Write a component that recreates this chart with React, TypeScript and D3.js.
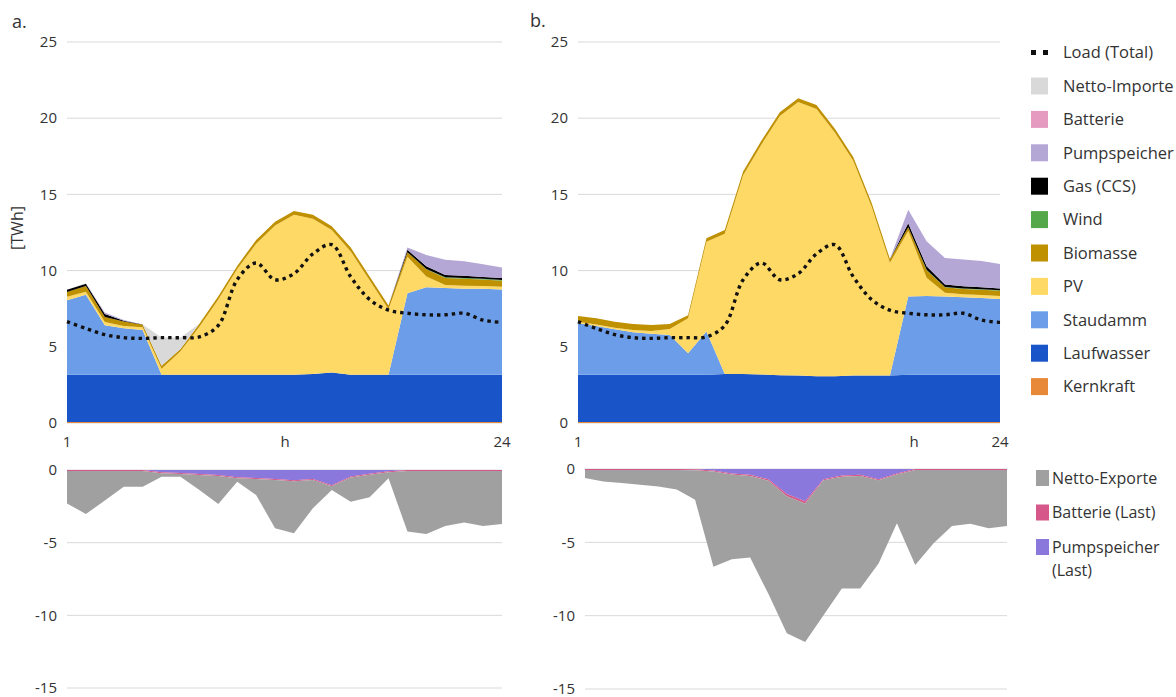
import React, { useEffect, useRef } from 'react';
import * as d3 from 'd3';

// hours of the typical day
const hours = [1, 2, 3, 4, 5, 6, 7, 8, 9, 10, 11, 12, 13, 14, 15, 16, 17, 18, 19, 20, 21, 22, 23, 24];
const load = [6.65, 6.2, 5.8, 5.6, 5.55, 5.6, 5.6, 5.65, 6.4, 9.4, 10.5, 9.4, 9.8, 11.1, 11.7, 9.6, 8.1, 7.4, 7.2, 7.1, 7.1, 7.2, 6.75, 6.6];

// panel a. supply [TWh]
const kernkraftA = [0.06, 0.06, 0.06, 0.06, 0.06, 0.06, 0.06, 0.06, 0.06, 0.06, 0.06, 0.06, 0.06, 0.06, 0.06, 0.06, 0.06, 0.06, 0.06, 0.06, 0.06, 0.06, 0.06, 0.06];
const laufwasserA = [3.1, 3.1, 3.1, 3.1, 3.1, 3.1, 3.1, 3.1, 3.1, 3.1, 3.1, 3.1, 3.1, 3.15, 3.25, 3.1, 3.1, 3.1, 3.1, 3.1, 3.1, 3.1, 3.1, 3.1];
const staudammA = [4.9, 5.25, 3.25, 3.05, 2.95, 0, 0, 0, 0, 0, 0, 0, 0, 0, 0, 0, 0, 0, 5.35, 5.75, 5.7, 5.65, 5.65, 5.6];
const pvA = [0.22, 0.2, 0.22, 0.16, 0.17, 0.4, 1.55, 3.15, 4.95, 6.95, 8.6, 9.8, 10.5, 10.2, 9.35, 8.1, 6.2, 4.3, 2.4, 0.7, 0.2, 0.2, 0.18, 0.18];
const biomasseA = [0.31, 0.38, 0.32, 0.29, 0.16, 0.2, 0.15, 0.2, 0.2, 0.2, 0.25, 0.25, 0.25, 0.25, 0.25, 0.25, 0.25, 0.25, 0.3, 0.48, 0.45, 0.45, 0.42, 0.4];
const windA = [0, 0, 0, 0, 0, 0, 0, 0, 0, 0, 0, 0, 0, 0, 0, 0, 0, 0, 0, 0.02, 0.05, 0.05, 0.05, 0.05];
const gasA = [0.15, 0.14, 0.2, 0.05, 0.02, 0, 0, 0, 0, 0, 0, 0, 0, 0, 0, 0, 0, 0, 0.15, 0.18, 0.15, 0.15, 0.12, 0.12];
const pumpspeicherA = [0, 0.03, 0.1, 0.05, 0, 0, 0, 0, 0, 0, 0, 0, 0, 0, 0, 0, 0, 0, 0.15, 0.74, 1.0, 0.95, 0.83, 0.7];
const batterieA = [0, 0, 0, 0, 0, 0, 0, 0, 0, 0, 0, 0, 0, 0, 0, 0, 0, 0, 0, 0, 0, 0, 0, 0];
const importeA = [0, 0, 0, 0, 0, 1.85, 0.75, 0, 0, 0, 0, 0, 0, 0, 0, 0, 0, 0, 0, 0, 0, 0, 0, 0];

// panel a. demand side (drawn below zero)
const exporteA = [2.23, 2.96, 2.03, 1.08, 1.08, 0.24, 0.19, 1.04, 1.92, 0.23, 1.1, 3.31, 3.59, 1.95, 0.26, 1.66, 1.56, 0.42, 4.17, 4.33, 3.78, 3.55, 3.78, 3.65];
const batterieLastA = [0.07, 0.07, 0.07, 0.07, 0.07, 0.07, 0.07, 0.07, 0.07, 0.07, 0.07, 0.07, 0.07, 0.07, 0.07, 0.07, 0.07, 0.07, 0.07, 0.07, 0.07, 0.07, 0.07, 0.07];
const pumpLastA = [0, 0, 0, 0, 0, 0.15, 0.2, 0.27, 0.35, 0.5, 0.55, 0.62, 0.7, 0.62, 1.05, 0.45, 0.25, 0.08, 0, 0, 0, 0, 0, 0];

// panel b. supply [TWh]
const kernkraftB = [0.06, 0.06, 0.06, 0.06, 0.06, 0.06, 0.06, 0.06, 0.06, 0.06, 0.06, 0.06, 0.06, 0.06, 0.06, 0.06, 0.06, 0.06, 0.06, 0.06, 0.06, 0.06, 0.06, 0.06];
const laufwasserB = [3.1, 3.1, 3.1, 3.1, 3.1, 3.1, 3.1, 3.1, 3.15, 3.15, 3.12, 3.08, 3.05, 3.0, 3.0, 3.05, 3.05, 3.05, 3.1, 3.1, 3.1, 3.1, 3.1, 3.1];
const staudammB = [3.38, 3.2, 2.99, 2.79, 2.69, 2.61, 1.41, 2.84, 0, 0, 0, 0, 0, 0, 0, 0, 0, 0, 5.14, 5.17, 5.14, 5.09, 5.04, 4.97];
const pvB = [0.1, 0.1, 0.1, 0.15, 0.18, 0.4, 2.3, 5.9, 9.2, 13.05, 15.1, 17.0, 17.95, 17.55, 16.0, 14.1, 11.1, 7.4, 4.3, 1.2, 0.25, 0.2, 0.2, 0.2];
const biomasseB = [0.38, 0.41, 0.4, 0.4, 0.4, 0.33, 0.2, 0.22, 0.25, 0.25, 0.25, 0.25, 0.25, 0.25, 0.25, 0.25, 0.25, 0.25, 0.25, 0.5, 0.35, 0.35, 0.35, 0.35];
const windB = [0, 0, 0, 0, 0, 0, 0, 0, 0, 0, 0, 0, 0, 0, 0, 0, 0, 0, 0, 0.02, 0.03, 0.03, 0.03, 0.03];
const gasB = [0, 0, 0, 0, 0, 0, 0, 0, 0, 0, 0, 0, 0, 0, 0, 0, 0, 0, 0.25, 0.23, 0.16, 0.14, 0.13, 0.12];
const pumpspeicherB = [0, 0, 0, 0, 0, 0, 0, 0, 0, 0, 0, 0, 0, 0, 0, 0, 0, 0, 0.9, 1.64, 1.74, 1.76, 1.72, 1.6];
const batterieB = [0, 0, 0, 0, 0, 0, 0, 0, 0, 0, 0, 0, 0, 0, 0, 0, 0, 0, 0, 0, 0, 0, 0, 0];
const importeB = [0, 0, 0, 0, 0, 0, 0, 0, 0, 0, 0, 0, 0, 0, 0, 0, 0, 0, 0, 0, 0, 0, 0, 0];

// panel b. demand side
const exporteB = [0.55, 0.78, 0.89, 1.0, 1.12, 1.33, 2.01, 6.5, 5.79, 5.56, 7.73, 9.35, 9.45, 9.21, 7.63, 7.68, 5.67, 3.33, 6.48, 5.0, 3.81, 3.67, 3.97, 3.81];
const batterieLastB = [0.07, 0.07, 0.07, 0.07, 0.07, 0.07, 0.07, 0.07, 0.07, 0.07, 0.1, 0.15, 0.15, 0.07, 0.07, 0.07, 0.07, 0.07, 0.07, 0.07, 0.07, 0.07, 0.07, 0.07];
const pumpLastB = [0, 0, 0, 0, 0, 0, 0.02, 0.1, 0.3, 0.4, 0.7, 1.7, 2.2, 0.7, 0.45, 0.4, 0.7, 0.3, 0, 0, 0, 0, 0, 0];

const topTicks = [0, 5, 10, 15, 20, 25];
const bottomTicks = [0, -5, -10, -15];

const supplyKeys = ['Kernkraft', 'Laufwasser', 'Staudamm', 'PV', 'Biomasse', 'Wind', 'Gas (CCS)', 'Pumpspeicher', 'Batterie', 'Netto-Importe'];
const demandKeys = ['Pumpspeicher (Last)', 'Batterie (Last)', 'Netto-Exporte'];

const colors: Record<string, string> = {
  'Kernkraft': '#e8893a',
  'Laufwasser': '#1a54c9',
  'Staudamm': '#6c9de8',
  'PV': '#ffd966',
  'Biomasse': '#bf9000',
  'Wind': '#55a84a',
  'Gas (CCS)': '#000000',
  'Pumpspeicher': '#b4a7d6',
  'Batterie': '#e59bbf',
  'Netto-Importe': '#d9d9d9',
  'Netto-Exporte': '#a0a0a0',
  'Batterie (Last)': '#d6578a',
  'Pumpspeicher (Last)': '#8b78dc',
};

const FONT = '"Open Sans", sans-serif';
const TEXT = '#333333';

function supplyRows(s: number[][]) {
  return hours.map((h, i) => {
    const row: any = { hour: h };
    supplyKeys.forEach((k, j) => { row[k] = s[j][i]; });
    return row;
  });
}

function demandRows(s: number[][]) {
  return hours.map((h, i) => {
    const row: any = { hour: h };
    demandKeys.forEach((k, j) => { row[k] = -s[j][i]; });
    return row;
  });
}

export default function App() {
  const ref = useRef<SVGSVGElement>(null);

  useEffect(() => {
    const svg = d3.select(ref.current);
    svg.selectAll('*').remove();

    const drawGrid = (g: any, x0: number, x1: number, y: any, ticks: number[], labelX: number) => {
      g.selectAll('line.grid').data(ticks).enter().append('line')
        .attr('x1', x0).attr('x2', x1)
        .attr('y1', (d: number) => y(d)).attr('y2', (d: number) => y(d))
        .attr('stroke', '#d9d9d9').attr('stroke-width', 1);
      g.selectAll('text.tick').data(ticks).enter().append('text')
        .attr('x', labelX).attr('y', (d: number) => y(d))
        .attr('dy', '0.35em').attr('text-anchor', 'end')
        .attr('font-family', FONT).attr('font-size', 15).attr('fill', TEXT)
        .text((d: number) => d);
    };

    const drawTop = (x0: number, x1: number, series: number[][], hLabelX: number) => {
      const g = svg.append('g');
      const x = d3.scaleLinear().domain([1, 24]).range([x0, x1]);
      const y = d3.scaleLinear().domain([0, 25]).range([423, 42]);
      drawGrid(g, x0, x1, y, topTicks, x0 - 10);

      const stacked = d3.stack().keys(supplyKeys)(supplyRows(series));
      const area = d3.area<any>()
        .x((d: any) => x(d.data.hour))
        .y0((d: any) => y(d[0]))
        .y1((d: any) => y(d[1]));
      g.selectAll('path.layer').data(stacked).enter().append('path')
        .attr('d', area as any)
        .attr('fill', (d: any) => colors[d.key]);

      // load as dotted smooth line
      const line = d3.line<number>()
        .x((d, i) => x(hours[i]))
        .y(d => y(d))
        .curve(d3.curveCatmullRom.alpha(0.5));
      g.append('path').attr('d', line(load))
        .attr('fill', 'none').attr('stroke', '#111')
        .attr('stroke-width', 3.4).attr('stroke-dasharray', '3.4 4');

      // x labels
      const xl = [{ t: '1', x: x(1) }, { t: 'h', x: hLabelX }, { t: '24', x: x(24) }];
      g.selectAll('text.xl').data(xl).enter().append('text')
        .attr('x', (d: any) => d.x).attr('y', 447)
        .attr('text-anchor', 'middle')
        .attr('font-family', FONT).attr('font-size', 15).attr('fill', TEXT)
        .text((d: any) => d.t);
    };

    const drawBottom = (x0: number, x1: number, y0: number, y1: number, series: number[][]) => {
      const g = svg.append('g');
      const x = d3.scaleLinear().domain([1, 24]).range([x0, x1]);
      const y = d3.scaleLinear().domain([-15, 0]).range([y1, y0]);
      drawGrid(g, x0, x1, y, bottomTicks, x0 - 10);

      const stacked = d3.stack().keys(demandKeys).offset(d3.stackOffsetDiverging)(demandRows(series));
      const area = d3.area<any>()
        .x((d: any) => x(d.data.hour))
        .y0((d: any) => y(d[0]))
        .y1((d: any) => y(d[1]));
      g.selectAll('path.layer').data(stacked).enter().append('path')
        .attr('d', area as any)
        .attr('fill', (d: any) => colors[d.key]);
    };

    drawTop(67, 502, [kernkraftA, laufwasserA, staudammA, pvA, biomasseA, windA, gasA, pumpspeicherA, batterieA, importeA], 285);
    drawTop(578, 1000, [kernkraftB, laufwasserB, staudammB, pvB, biomasseB, windB, gasB, pumpspeicherB, batterieB, importeB], 914);
    drawBottom(67, 502, 470, 688, [pumpLastA, batterieLastA, exporteA]);
    drawBottom(585, 1007, 469, 689, [pumpLastB, batterieLastB, exporteB]);

    // panel letters + unit
    svg.append('text').attr('x', 12).attr('y', 28).attr('font-family', FONT).attr('font-size', 18).attr('fill', TEXT).text('a.');
    svg.append('text').attr('x', 530).attr('y', 27).attr('font-family', FONT).attr('font-size', 18).attr('fill', TEXT).text('b.');
    svg.append('text').attr('transform', 'translate(23,228) rotate(-90)')
      .attr('text-anchor', 'middle').attr('font-family', FONT).attr('font-size', 16).attr('fill', TEXT).text('[TWh]');

    // legend top
    const legendTop = ['Load (Total)', 'Netto-Importe', 'Batterie', 'Pumpspeicher', 'Gas (CCS)', 'Wind', 'Biomasse', 'PV', 'Staudamm', 'Laufwasser', 'Kernkraft'];
    const lt = svg.append('g');
    legendTop.forEach((k, i) => {
      const cy = 52.6 + i * 33.4;
      if (k === 'Load (Total)') {
        lt.append('line').attr('x1', 1031).attr('x2', 1048).attr('y1', cy).attr('y2', cy)
          .attr('stroke', '#111').attr('stroke-width', 5).attr('stroke-dasharray', '5 7');
      } else {
        lt.append('rect').attr('x', 1031).attr('y', cy - 8.5).attr('width', 17).attr('height', 17).attr('fill', colors[k]);
      }
      lt.append('text').attr('x', 1063).attr('y', cy).attr('dy', '0.35em')
        .attr('font-family', FONT).attr('font-size', 16.5).attr('fill', TEXT).text(k);
    });

    // legend bottom
    const legendBottom = ['Netto-Exporte', 'Batterie (Last)', 'Pumpspeicher (Last)'];
    const lb = svg.append('g');
    legendBottom.forEach((k, i) => {
      const cy = 478 + i * 34.5;
      lb.append('rect').attr('x', 1036).attr('y', cy - 8).attr('width', 13).attr('height', 16).attr('fill', colors[k]);
      const words = k === 'Pumpspeicher (Last)' ? ['Pumpspeicher', '(Last)'] : [k];
      words.forEach((w, j) => {
        lb.append('text').attr('x', 1052).attr('y', cy + j * 23).attr('dy', '0.35em')
          .attr('font-family', FONT).attr('font-size', 16).attr('fill', TEXT).text(w);
      });
    });
  }, []);

  return (
    <svg ref={ref} width={1176} height={697}
      style={{ position: 'absolute', left: 0, top: 0, background: '#fff' }} />
  );
}
